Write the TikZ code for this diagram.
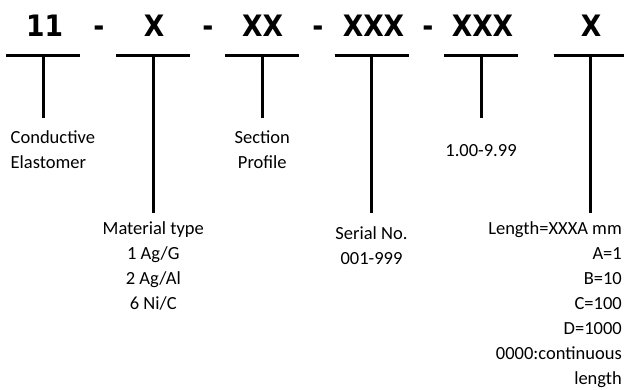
\documentclass[tikz,border=0pt]{standalone}
\usepackage{fontspec}
\setmainfont{Carlito}
\newfontfamily\headfont{DejaVu Sans Condensed}
\begin{document}
\begin{tikzpicture}[x=1pt,y=-1pt,
  bar/.style={line width=3pt},
  head/.style={font=\headfont\bfseries\fontsize{29.5}{33}\selectfont, inner sep=0pt, anchor=base},
  lbl/.style={font=\fontsize{18.5}{25}\selectfont, inner sep=0pt}]
\useasboundingbox (0,0) rectangle (624,389);
% heading
\node[head] (h1) at (44.5,36.5) {11};
\node[head] (d1) at (99,36.5) {-};
\node[head] (h2) at (154,36.5) {X};
\node[head] (d2) at (208,36.5) {-};
\node[head] (h3) at (262.5,36.5) {XX};
\node[head] (d3) at (318,36.5) {-};
\node[head] (h4) at (373.5,36.5) {XXX};
\node[head] (d4) at (428,36.5) {-};
\node[head] (h5) at (482.5,36.5) {XXX};
\node[head] (h6) at (591,36.5) {X};
% bars and stems
\foreach \n/\c/\e in {1/43.3/118.3, 2/153.3/213, 3/262.3/118.3, 4/371.5/213, 5/481/118.3, 6/590.7/213}{
  \coordinate (t\n) at (\c,55.5);
  \coordinate (s\n) at (\c,\e);
  \draw[bar] (\c-37,55.5) -- (\c+37,55.5);
  \draw[bar] (t\n) -- (s\n);
}
% labels
\node[lbl, anchor=base west] (l1) at (10.5,143)
  {\begin{tabular}[t]{@{}l@{}}Conductive\\Elastomer\end{tabular}};
\node[lbl, anchor=base] (l2) at (153.3,234.3)
  {\begin{tabular}[t]{@{}c@{}}Material type\\1 Ag/G\\2 Ag/Al\\6 Ni/C\end{tabular}};
\node[lbl, anchor=base] (l3) at (262.3,143)
  {\begin{tabular}[t]{@{}c@{}}Section\\Profile\end{tabular}};
\node[lbl, anchor=base] (l4) at (371.5,239.3)
  {\begin{tabular}[t]{@{}c@{}}Serial No.\\001-999\end{tabular}};
\node[lbl, anchor=base] (l5) at (481,156.5) {1.00-9.99};
\node[lbl, anchor=base east] (l6) at (622,234.3)
  {\begin{tabular}[t]{@{}r@{}}Length=XXXA mm\\A=1\\B=10\\C=100\\D=1000\\0000:continuous\\length\end{tabular}};
\end{tikzpicture}
\end{document}
